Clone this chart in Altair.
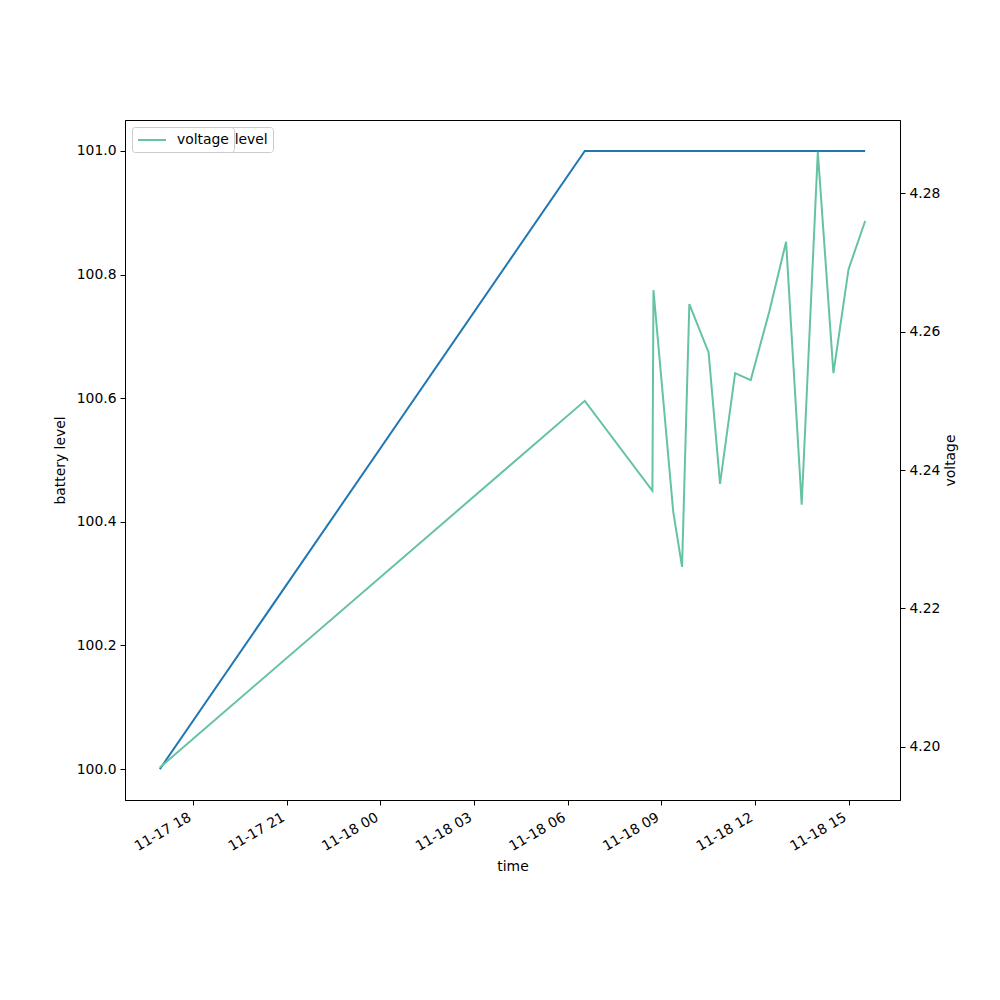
import altair as alt
import pandas as pd

times = ["2023-11-17T16:56:00Z", "2023-11-18T06:33:00Z", "2023-11-18T08:43:00Z", "2023-11-18T08:45:00Z",
         "2023-11-18T09:23:00Z", "2023-11-18T09:40:00Z", "2023-11-18T09:54:00Z", "2023-11-18T10:31:00Z",
         "2023-11-18T10:53:00Z", "2023-11-18T11:22:00Z", "2023-11-18T11:52:00Z", "2023-11-18T12:28:00Z",
         "2023-11-18T13:00:00Z", "2023-11-18T13:30:00Z", "2023-11-18T14:01:00Z", "2023-11-18T14:31:00Z",
         "2023-11-18T15:00:00Z", "2023-11-18T15:32:00Z"]
battery_level = [100, 101, 101, 101, 101, 101, 101, 101, 101, 101, 101, 101, 101, 101, 101, 101, 101, 101]
voltage = [4.197, 4.250, 4.237, 4.266, 4.234, 4.226, 4.264, 4.257, 4.238, 4.254, 4.253, 4.263,
           4.273, 4.235, 4.286, 4.254, 4.269, 4.276]

df = pd.DataFrame({"time": times, "battery_level": battery_level, "voltage": voltage})

FONT = "DejaVu Sans"
FS = 13.9

x_ticks = [alt.DateTime(year=2023, month=11, date=17, hours=h, utc=True) for h in (18, 21)] + \
          [alt.DateTime(year=2023, month=11, date=18, hours=h, utc=True) for h in (0, 3, 6, 9, 12, 15)]
x_domain = [alt.DateTime(year=2023, month=11, date=17, hours=15, minutes=49, utc=True),
            alt.DateTime(year=2023, month=11, date=18, hours=16, minutes=39, utc=True)]

x_enc = alt.X("time:T", title="time",
              scale=alt.Scale(type="utc", domain=x_domain, nice=False),
              axis=alt.Axis(values=x_ticks, format="%m-%d %H", labelAngle=-30, labelAlign="right",
                            labelBaseline="top", labelOffset=-7, grid=False, tickSize=5, labelPadding=5,
                            domainColor="black", tickColor="black", labelColor="black",
                            labelFont=FONT, labelFontSize=FS, titleFont=FONT, titleFontSize=FS,
                            titleFontWeight="normal", titleColor="black", titlePadding=6))

def legend():
    return alt.Legend(title=None, orient="none", legendX=7, legendY=7, fillColor="white",
                      strokeColor="#cccccc", cornerRadius=3, padding=5, symbolType="M-2,0H2",
                      symbolSize=196, symbolOffset=7, symbolStrokeWidth=2, labelFont=FONT,
                      labelFontSize=FS, labelColor="black", labelOffset=17)

bat = alt.Chart(df).transform_calculate(series="'battery_level'").mark_line(strokeWidth=2).encode(
    x=x_enc,
    y=alt.Y("battery_level:Q", title="battery level",
            scale=alt.Scale(domain=[99.95, 101.05], nice=False, zero=False),
            axis=alt.Axis(values=[100.0, 100.2, 100.4, 100.6, 100.8, 101.0], format=".1f", grid=False,
                          orient="left", tickSize=5, labelPadding=4, domainColor="black",
                          tickColor="black", labelColor="black", labelFont=FONT, labelFontSize=FS,
                          titleFont=FONT, titleFontSize=FS, titleFontWeight="normal",
                          titleColor="black", titlePadding=9)),
    color=alt.Color("series:N", scale=alt.Scale(domain=["battery_level"], range=["#1f77b4"]),
                    legend=legend()),
)

volt = alt.Chart(df).transform_calculate(series="'voltage'").mark_line(strokeWidth=2).encode(
    x=x_enc,
    y=alt.Y("voltage:Q", title="voltage",
            scale=alt.Scale(domain=[4.1923, 4.2906], nice=False, zero=False),
            axis=alt.Axis(values=[4.20, 4.22, 4.24, 4.26, 4.28], format=".2f", grid=False,
                          orient="right", tickSize=5, labelPadding=4, domainColor="black",
                          tickColor="black", labelColor="black", labelFont=FONT, labelFontSize=FS,
                          titleFont=FONT, titleFontSize=FS, titleFontWeight="normal",
                          titleColor="black", titlePadding=4, titleAngle=270, titleBaseline="top")),
    color=alt.Color("series:N", scale=alt.Scale(domain=["voltage"], range=["#66c2a5"]),
                    legend=legend()),
)

chart = alt.layer(bat, volt).resolve_scale(y="independent", color="independent").properties(
    width=775, height=680,
    background="white",
    autosize=alt.AutoSizeParams(type="none"),
    padding={"left": 117, "top": 112, "right": 92, "bottom": 192},
).configure_view(stroke="black", strokeWidth=1)

chart.save("out.html", embed_options={"renderer": "svg", "actions": False})
